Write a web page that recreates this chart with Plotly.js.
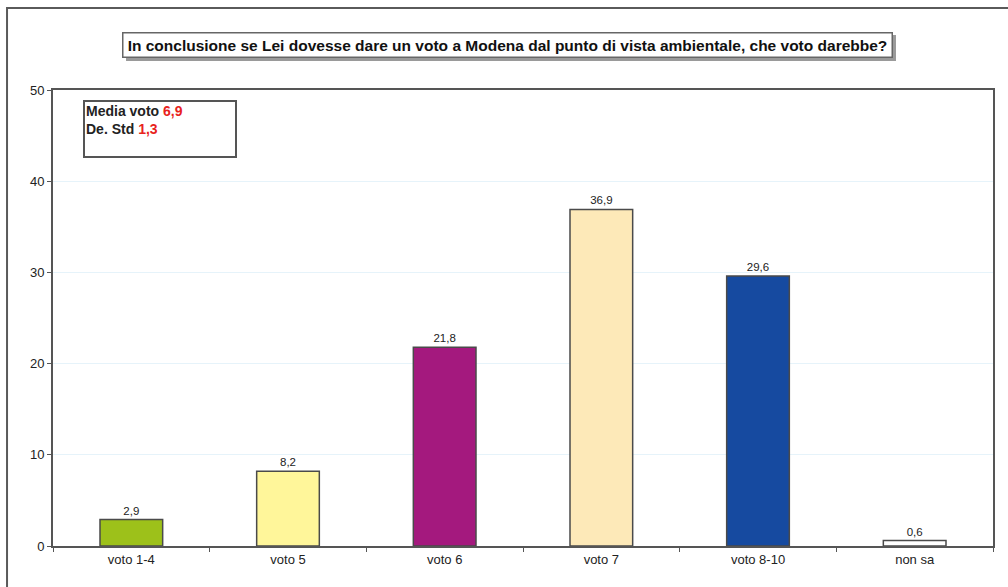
<!DOCTYPE html>
<html>
<head>
<meta charset="utf-8">
<script src="https://cdn.plot.ly/plotly-3.0.1.min.js"></script>
<style>
  html, body { margin: 0; padding: 0; background: #ffffff; }
  #chart { width: 1008px; height: 587px; }
</style>
</head>
<body>
<div id="chart"></div>
<script>
// Voto ambientale a Modena: distribuzione delle risposte (%)
const categories = ['voto 1-4', 'voto 5', 'voto 6', 'voto 7', 'voto 8-10', 'non sa'];
const percentages = [2.9, 8.2, 21.8, 36.9, 29.6, 0.6];
const barColors = ['#9dc11a', '#fff69a', '#a4197e', '#fde9b8', '#164aa0', '#ffffff'];
const yTicks = [0, 10, 20, 30, 40, 50];
const mediaVoto = '6,9';
const devStd = '1,3';
const question = 'In conclusione se Lei dovesse dare un voto a Modena dal punto di vista ambientale, che voto darebbe?';

const fmt = v => v.toFixed(1).replace('.', ',');

const trace = {
  type: 'bar',
  x: categories,
  y: percentages,
  width: 0.4,
  marker: { color: barColors, line: { color: '#4a4a4a', width: 1.5 } },
  text: percentages.map(fmt),
  textposition: 'outside',
  cliponaxis: false,
  textfont: { family: 'Liberation Sans, Arial, sans-serif', size: 11.5, color: '#222' },
  hoverinfo: 'x+y'
};

const layout = {
  width: 1008,
  height: 587,
  margin: { l: 53, r: 15, t: 90, b: 41 },
  paper_bgcolor: '#ffffff',
  plot_bgcolor: '#ffffff',
  showlegend: false,
  bargap: 0.6,
  font: { family: 'Liberation Sans, Arial, sans-serif', size: 12, color: '#222' },
  xaxis: {
    type: 'category',
    showline: true, mirror: true, linecolor: '#555', linewidth: 2,
    ticks: 'outside', tickson: 'boundaries', ticklen: 4, tickcolor: '#555',
    showgrid: false,
    tickfont: { size: 13, color: '#222' }
  },
  yaxis: {
    range: [0, 50],
    tickvals: yTicks,
    showline: true, mirror: true, linecolor: '#555', linewidth: 2,
    ticks: 'outside', ticklen: 4, tickcolor: '#555',
    showgrid: true, gridcolor: '#e6f3fa', gridwidth: 1,
    zeroline: false,
    tickfont: { size: 13, color: '#222' }
  },
  shapes: [
    // outer frame (top and left edges)
    { type: 'path', xref: 'paper', yref: 'paper',
      path: 'M -0.0489,-0.2 L -0.0489,1.18 L 1.1,1.18',
      line: { color: '#5a5a5a', width: 2 } },
    // shadow behind the question box
    { type: 'rect', xref: 'paper', yref: 'paper',
      x0: 0.0777, x1: 0.8968, y0: 1.0636, y1: 1.1206,
      fillcolor: '#9a9a9a', line: { width: 0 } }
  ],
  annotations: [
    {
      xref: 'paper', yref: 'paper',
      x: 0.484, y: 1.0987, xanchor: 'center', yanchor: 'middle',
      width: 764, height: 19,
      text: '<b>' + question + '</b>',
      showarrow: false,
      font: { family: 'Liberation Sans, Arial, sans-serif', size: 15.5, color: '#111' },
      bgcolor: '#ffffff', bordercolor: '#666', borderwidth: 1.5, borderpad: 2
    },
    {
      xref: 'paper', yref: 'paper',
      x: 0.0319, y: 0.978, xanchor: 'left', yanchor: 'top',
      width: 148, height: 52,
      align: 'left', valign: 'top',
      text: '<b>Media voto <span style="color:#e8231c">' + mediaVoto + '</span><br>De. Std <span style="color:#e8231c">' + devStd + '</span></b>',
      showarrow: false,
      font: { family: 'Liberation Sans, Arial, sans-serif', size: 14, color: '#222' },
      bgcolor: '#ffffff', bordercolor: '#555', borderwidth: 2, borderpad: 1
    }
  ]
};

Plotly.newPlot('chart', [trace], layout, { displayModeBar: false, staticPlot: true });
</script>
</body>
</html>
